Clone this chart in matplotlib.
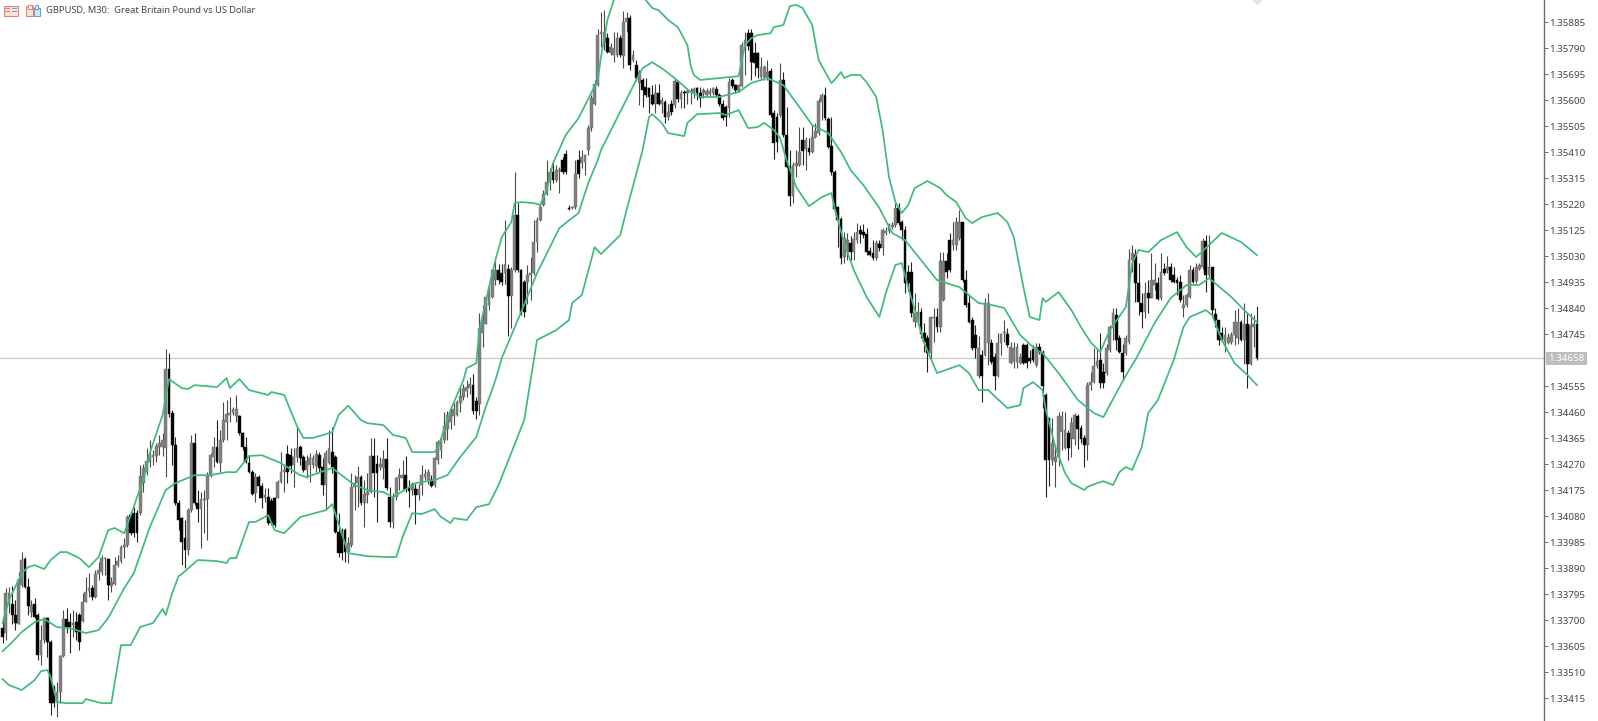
import matplotlib
matplotlib.use("Agg")
import matplotlib.pyplot as plt
from matplotlib.patches import Rectangle
import numpy as np

# all prices below are points above 1.30000 (1 point = 0.00001)
opens = [
    3671,3653,3756,3760,3720,3689,3829,3923,3821,3732, 3759,3720,3574,3628,3708,3622,3458,3403,3440,3570,
    3704,3695,3683,3695,3720,3699,3769,3809,3817,3787, 3870,3878,3923,3923,3826,3835,3902,3917,3967,3976,
    4085,4091,4091,4092,4201,4244,4280,4299,4301,4335, 4333,4329,4618,4459,4341,4128,4073,4000,3958,4104,
    4350,4131,4106,4140,4143,4228,4299,4333,4277,4360, 4427,4451,4459,4447,4447,4384,4333,4277,4244,4165,
    4223,4191,4146,4150,4138,4146,4146,4207,4244,4308, 4305,4268,4296,4333,4299,4250,4268,4268,4265,4305,
    4262,4195,4277,4317,4299,4025,4019,4031,3952,3976, 4189,4201,4226,4131,4159,4171,4301,4272,4260,4256,
    4289,4153,4061,4153,4220,4219,4233,4186,4176,4182, 4158,4194,4225,4213,4215,4194,4286,4322,4359,4401,
    4426,4446,4450,4493,4517,4539,4548,4560,4502,4490, 4749,4785,4852,4883,4944,4980,4968,4968,4986,4885,
    4980,5181,4980,4937,4937,4962,4968,5084,5163,5218, 5260,5303,5339,5309,5343,5382,5406,5209,5208,5211,
    5382,5370,5376,5419,5498,5589,5656,5843,5809,5827, 5772,5766,5766,5827,5762,5888,5900,5748,5729,5663,
    5675,5648,5644,5620,5587,5626,5587,5595,5538,5589, 5583,5669,5604,5632,5628,5632,5632,5644,5628,5626,
    5620,5623,5626,5641,5620,5587,5575,5571,5675,5656, 5636,5653,5796,5845,5845,5775,5775,5687,5687,5687,
    5709,5553,5541,5547,5675,5474,5356,5251,5361,5364, 5456,5422,5425,5413,5468,5483,5596,5620,5531,5434,
    5340,5212,5166,5029,5048,5078,5048,5090,5127,5121, 5112,5051,5044,5023,5076,5060,5115,5124,5137,5145,
    5206,5157,5127,4975,4975,4792,4792,4828,4749,4731, 4676,4804,4808,4774,4871,5013,5090,5072,5072,5096,
    5157,4944,4859,4798,4743,4593,4670,4670,4713,4713, 4664,4593,4713,4749,4747,4642,4646,4646,4642,4707,
    4707,4658,4691,4634,4698,4680,4524,4439,4287,4280, 4299,4390,4329,4384,4362,4362,4447,4402,4366,4341,
    4561,4573,4630,4651,4609,4603,4690,4767,4816,4731, 4676,4676,4718,5017,5035,4932,4861,4828,4895,4880,
    4925,4932,4877,4986,4980,4992,4962,4944,4938,4840, 4852,4883,4980,4941,4983,4992,5087,4962,4990,4820,
    4798,4749,4718,4715,4718,4743,4731,4791,4725,4783,4639,4773,4785,
]
closes = [
    3641,3801,3799,3720,3692,3848,3921,3821,3753,3756, 3714,3574,3628,3708,3622,3397,3397,3440,3570,3704,
    3677,3677,3692,3659,3622,3769,3805,3817,3787,3870, 3884,3927,3927,3829,3842,3902,3917,3969,3976,4079,
    4018,4018,4018,4228,4256,4284,4305,4305,4338,4350, 4360,4618,4455,4341,4128,4067,3988,3958,4104,4350,
    4128,4106,4143,4143,4228,4305,4333,4280,4360,4433, 4455,4459,4472,4472,4384,4333,4280,4244,4162,4226,
    4191,4146,4159,4055,4055,4049,4207,4244,4250,4244, 4265,4296,4329,4293,4250,4284,4293,4293,4308,4256,
    4195,4311,4329,4260,4025,3945,3945,3952,3982,4189, 4201,4226,4131,4162,4171,4301,4238,4238,4272,4289,
    4183,4061,4150,4220,4232,4231,4182,4174,4200,4158, 4182,4231,4235,4243,4191,4292,4353,4361,4410,4450,
    4462,4474,4499,4520,4548,4554,4563,4466,4466,4767, 4800,4883,4919,4980,4980,4944,4937,5004,4885,4980,
    5181,4980,4822,4828,4962,4968,5084,5163,5212,5260, 5303,5339,5309,5345,5345,5339,5339,5202,5211,5333,
    5333,5394,5400,5498,5608,5660,5839,5851,5851,5778, 5796,5790,5827,5766,5888,5900,5729,5766,5681,5705,
    5638,5620,5614,5589,5626,5587,5602,5538,5559,5559, 5671,5604,5628,5628,5636,5636,5641,5626,5608,5638,
    5636,5636,5644,5620,5587,5535,5541,5669,5653,5638, 5656,5803,5821,5799,5742,5738,5717,5723,5723,5705,
    5547,5444,5450,5675,5474,5358,5251,5364,5370,5413, 5417,5456,5413,5468,5490,5599,5620,5535,5431,5340,
    5202,5163,5023,5096,5090,5048,5093,5121,5112,5109, 5048,5036,5023,5078,5060,5127,5124,5139,5145,5206,
    5151,5127,4932,4932,4822,4822,4828,4747,4719,4676, 4808,4808,4774,5013,5013,4975,4981,5090,5157,5157,
    4944,4853,4792,4694,4694,4694,4593,4859,4859,4646, 4593,4713,4747,4755,4707,4701,4695,4701,4664,4642,
    4642,4649,4652,4698,4682,4555,4287,4287,4347,4299, 4447,4447,4396,4329,4420,4451,4399,4362,4341,4561,
    4573,4630,4649,4566,4566,4694,4773,4822,4725,4682, 4609,4731,5017,5041,4932,4865,4828,4897,4880,4944,
    4944,4873,4974,4968,4992,4944,4938,4932,4871,4852, 4889,4980,4938,4992,4998,5087,4962,4992,4834,4798,
    4725,4725,4743,4737,4743,4791,4791,4725,4783,4639,4779,4785,4658,
]
highs = [
    3714,3817,3821,3826,3775,3878,3951,3933,3854,3775, 3781,3726,3683,3714,3714,3628,3464,3476,3574,3738,
    3744,3726,3738,3732,3726,3799,3860,3872,3829,3884, 3915,3939,3933,3927,3860,3933,3939,3976,4000,4085,
    4091,4116,4103,4268,4272,4329,4360,4323,4347,4378, 4384,4691,4676,4469,4372,4140,4079,4067,4110,4378,
    4384,4177,4171,4177,4244,4311,4372,4433,4396,4500, 4506,4518,4481,4524,4451,4390,4372,4305,4250,4238,
    4232,4201,4183,4183,4146,4153,4213,4317,4268,4341, 4329,4329,4411,4341,4305,4305,4311,4305,4323,4317,
    4293,4323,4396,4408,4305,4092,4037,4037,4006,4238, 4232,4265,4232,4213,4238,4366,4366,4305,4299,4323,
    4366,4189,4165,4226,4256,4286,4300,4213,4206,4200, 4200,4267,4255,4255,4231,4298,4359,4371,4462,4466,
    4483,4493,4505,4554,4563,4578,4590,4602,4517,4822, 4852,4889,4925,4986,5017,5004,5004,5163,5004,4992,
    5340,5224,4986,4944,4998,5029,5163,5175,5224,5272, 5382,5352,5382,5364,5358,5394,5418,5218,5214,5382,
    5418,5418,5406,5510,5620,5675,5863,5924,5930,5845, 5809,5851,5851,5839,5928,5924,5912,5784,5748,5711,
    5681,5681,5650,5656,5662,5662,5614,5602,5589,5602, 5681,5675,5638,5638,5644,5644,5648,5650,5648,5644,
    5644,5644,5650,5653,5626,5602,5584,5681,5681,5662, 5662,5815,5851,5863,5863,5815,5778,5760,5730,5748,
    5717,5565,5555,5736,5705,5577,5419,5377,5419,5502, 5502,5468,5462,5510,5517,5608,5626,5651,5541,5541,
    5346,5215,5176,5121,5115,5105,5121,5151,5145,5149, 5133,5066,5090,5090,5090,5133,5139,5151,5157,5224,
    5227,5163,5140,5000,5011,4895,4865,4841,4786,4743, 4810,4841,4841,5048,5048,5042,5115,5157,5176,5200,
    5157,4981,4889,4810,4780,4739,4688,4877,4895,4730, 4676,4749,4752,4798,4768,4719,4719,4713,4676,4713,
    4713,4688,4707,4713,4713,4688,4530,4439,4439,4335, 4463,4466,4463,4396,4445,4459,4455,4414,4378,4573,
    4609,4695,4695,4749,4640,4712,4779,4840,4840,4743, 4712,4743,5059,5072,5059,5005,4895,4938,4944,5041,
    5005,4956,5044,5005,5031,5005,4992,4956,4962,4889, 4895,4998,4992,5005,5007,5096,5108,5108,4992,4840,
    4798,4773,4773,4749,4755,4834,4840,4798,4859,4822,4822,4816,4849,
]
lows = [
    3616,3628,3726,3689,3665,3689,3823,3817,3720,3714, 3708,3555,3537,3616,3568,3354,3385,3348,3397,3568,
    3653,3580,3641,3628,3592,3695,3769,3787,3775,3781, 3848,3866,3866,3775,3805,3829,3896,3909,3927,3969,
    4012,4006,3988,4086,4171,4232,4262,4268,4280,4305, 4300,4226,4445,4268,4122,4031,3903,3891,3939,4098,
    4122,4061,3964,4019,3994,4226,4262,4274,4244,4353, 4360,4427,4451,4427,4378,4323,4274,4238,4159,4132,
    4146,4110,4134,4049,4049,4043,4146,4201,4171,4201, 4240,4189,4280,4268,4244,4220,4207,4256,4244,4244,
    4159,4104,4272,4240,4019,3933,3921,3915,3909,3970, 4104,4116,4122,4043,4128,4165,4153,4061,4250,4216,
    4177,4043,4037,4140,4177,4182,4170,4115,4158,4054, 4140,4158,4213,4200,4186,4188,4273,4292,4347,4359,
    4401,4414,4446,4462,4505,4517,4529,4456,4438,4450, 4700,4785,4834,4877,4925,4931,4925,4929,4739,4767,
    4974,4974,4816,4810,4858,4870,4962,5047,5160,5215, 5254,5272,5299,5303,5263,5333,5333,5199,5202,5205,
    5315,5352,5327,5400,5490,5583,5653,5796,5784,5772, 5766,5742,5760,5760,5717,5851,5711,5742,5675,5583,
    5577,5614,5553,5583,5553,5583,5553,5516,5529,5547, 5571,5595,5571,5571,5589,5589,5608,5602,5577,5608,
    5614,5614,5620,5614,5580,5529,5507,5541,5644,5626, 5632,5648,5693,5784,5675,5689,5681,5675,5675,5675,
    5541,5385,5413,5541,5468,5352,5215,5224,5322,5361, 5364,5346,5401,5407,5462,5474,5529,5529,5425,5328,
    5194,5066,5003,5005,5017,5017,5017,5078,5078,5096, 5036,5030,5017,5017,5051,5036,5109,5117,5129,5139,
    5145,5090,4895,4905,4810,4774,4780,4731,4682,4609, 4652,4719,4755,4755,4869,4950,4975,5054,5054,5090,
    4938,4847,4786,4688,4658,4585,4500,4666,4634,4637, 4542,4591,4670,4719,4698,4637,4621,4621,4637,4637,
    4621,4642,4646,4628,4674,4475,4153,4192,4268,4189, 4265,4323,4325,4287,4299,4341,4325,4347,4260,4287,
    4542,4569,4621,4548,4548,4597,4682,4725,4688,4676, 4578,4670,4712,4974,4865,4816,4767,4804,4822,4877,
    4907,4871,4871,4962,4968,4938,4932,4889,4865,4810, 4846,4877,4932,4932,4980,4986,4901,4956,4810,4773,
    4706,4718,4682,4710,4710,4706,4712,4722,4639,4548,4633,4700,4651,
]

upper_bars = [
    0,2,6,8,10,13,15,18,20,24,27,30,33,35,38,41,42,44,46,50,52,56,58,60,67,70,71,74,77,83,84,88,92,94,97,
    103,105,108,112,114,119,122,126,128,135,136,140,144,145,148,149,152,154,156,159,160,162,166,168,170,172,176,180,186,187,189,191,196,
    201,203,205,208,211,214,215,216,218,224,230,232,234,236,240,241,244,246,248,250,253,255,259,260,262,263,265,268,
    270,273,275,277,279,281,283,285,289,293,295,298,301,303,306,311,314,316,319,321,324,325,326,330,334,337,340,343,346,
    351,353,355,358,362,367,370,373,376,381,387,392,
]
upper = [
    3691,3775,3873,3895,3902,3888,3921,3950,3950,3928,3895,3932,4030,4038,4019,4115,4150,4213,4312,4451,4582,4549,4546,4560,4553,4586,4549,4582,4542,4524,4535,4524,4410,4367,4367,
    4388,4451,4485,4432,4421,4414,4378,4367,4315,4315,4330,4469,4578,4622,4640,4761,4918,5017,5101,5156,5225,5229,5225,5218,5273,5371,5474,5536,5675,5759,5894,5967,6004,
    5967,5938,5930,5894,5868,5803,5729,5693,5675,5682,5689,5803,5828,5839,5846,5868,5876,5945,5949,5938,5876,5748,5664,5675,5704,5682,5693,5693,
    5667,5613,5492,5320,5229,5189,5218,5280,5306,5280,5254,5229,5170,5152,5174,5189,5156,5101,4918,4809,4798,4878,4864,4900,4834,4772,4717,4681,4761,
    4845,5006,5054,5046,5090,5119,5064,5028,5061,5116,5083,5035,
]
middle_bars = [
    0,3,6,10,13,17,21,26,30,33,38,41,46,51,54,60,65,70,73,77,81,87,93,95,103,110,114,119,122,127,129,135,139,143,148,151,154,156,161,167,174,180,183,186,187,
    198,200,203,206,210,215,218,224,230,234,239,244,249,253,258,262,265,269,274,278,282,287,292,299,305,309,313,318,323,325,330,336,341,344,348,352,354,360,365,370,374,377,384,388,392,
]
middle = [
    3588,3621,3658,3694,3705,3676,3672,3654,3665,3709,3818,3873,4041,4177,4202,4231,4231,4242,4242,4301,4304,4275,4231,4224,4257,4195,4177,4169,4151,4187,4202,4213,4231,4297,4370,4480,4578,4659,4798,4969,5134,5189,5298,5382,5419,
    5675,5718,5740,5718,5682,5631,5613,5613,5631,5664,5682,5656,5576,5510,5481,5412,5346,5291,5207,5116,5090,5017,4944,4918,4860,4853,4842,4743,4688,4677,4604,4506,4458,4443,4531,4615,4652,4787,4878,4926,4926,4951,4882,4834,4790,
]
lower_bars = [
    0,2,6,10,12,14,15,17,20,25,26,31,34,35,37,40,43,47,50,51,53,55,56,61,67,70,71,73,77,79,83,85,88,93,101,103,108,114,120,123,125,128,131,135,137,140,141,145,148,152,155,163,167,173,177,178,181,185,187,193,195,
    200,202,203,206,208,213,214,217,224,226,230,233,236,238,241,243,245,248,252,256,259,260,263,266,270,274,276,279,281,283,288,292,299,302,305,308,314,318,319,322,325,326,329,332,334,338,339,342,344,347,349,351,353,356,358,361,366,369,371,376,378,381,385,389,392,
]
lower = [
    3486,3464,3446,3482,3515,3519,3493,3402,3398,3398,3413,3398,3398,3471,3610,3610,3676,3691,3742,3720,3800,3862,3870,3921,3917,3910,3928,3928,4060,4060,4085,4030,4019,4078,4103,4125,3946,3935,3932,3932,4005,4092,4089,4107,4078,4056,4074,4067,4114,4125,4195,4432,4725,4761,4798,4860,4889,5064,5039,5108,5200,
    5419,5539,5550,5518,5481,5470,5518,5550,5554,5547,5565,5499,5503,5518,5492,5463,5382,5284,5214,5247,5262,5207,5079,4980,4882,4809,4896,4999,5006,4918,4714,4604,4633,4604,4542,4542,4476,4487,4549,4571,4542,4469,4334,4239,4202,4177,4188,4202,4209,4195,4242,4261,4250,4334,4458,4505,4652,4772,4809,4834,4816,4725,4640,4597,4560,
]

axis_ticks = [
    3415,3510,3605,3700,3795,3890,3985,4080,4175,4270,4365,4460,4555,
    4745,4840,4935,5030,5125,5220,5315,5410,5505,5600,5695,5790,5885,
]
last_price = 4658
title = "GBPUSD, M30:  Great Britain Pound vs US Dollar"


def to_price(points):
    return 1.3 + np.asarray(points) / 1e5


W, H = 1598, 721
fig = plt.figure(figsize=(W / 100, H / 100), dpi=100, facecolor="white")
ax = fig.add_axes([0, 0, 1544 / W, 1])

px_per_unit = 26 / 0.00095
y_top = 1.35885 + 22.5 / px_per_unit
ax.set_ylim(y_top - H / px_per_unit, y_top)
ax.set_xlim(-2.6 / 3.2, (1544 - 2.6) / 3.2)

o = to_price(opens)
c = to_price(closes)
h = to_price(highs)
l = to_price(lows)
bars = np.arange(len(o))
up = c >= o

ax.axhline(to_price(last_price), color="#c8c8c8", lw=0.9, zorder=1)
ax.vlines(bars[up], l[up], h[up], color="#4a4a4a", lw=0.8, zorder=2)
ax.vlines(bars[~up], l[~up], h[~up], color="#222222", lw=0.8, zorder=2)
ax.bar(bars[up], (c - o)[up], bottom=o[up], width=0.85, color="#808080", edgecolor="#6a6a6a", lw=0.3, zorder=3)
ax.bar(bars[~up], (o - c)[~up], bottom=c[~up], width=0.85, color="#050505", edgecolor="#050505", lw=0.3, zorder=3)

band_lines = [(upper_bars, upper), (middle_bars, middle), (lower_bars, lower)]
for band_x, band in band_lines:
    ax.plot(band_x, to_price(band), color="#3fbb7a", lw=1.25, zorder=4, solid_joinstyle="round")

ax.plot([392], [y_top], marker="D", ms=5, color="#e4e4e4", mec="none", clip_on=True, zorder=1)

for s in ("top", "left", "bottom"):
    ax.spines[s].set_visible(False)
ax.spines["right"].set_color("#6e6e6e")
ax.spines["right"].set_linewidth(1.0)
ax.xaxis.set_visible(False)
ax.yaxis.tick_right()
ax.set_yticks(to_price(axis_ticks))
ax.set_yticklabels([f"{p:.5f}" for p in to_price(axis_ticks)], family="Noto Sans", fontsize=7, color="#444444")
ax.tick_params(axis="y", length=3, width=0.7, color="#6e6e6e", pad=0.5)

# current price tag
ax.text(
    1.003, to_price(last_price), f"{to_price(last_price):.5f}", transform=ax.get_yaxis_transform(),
    family="Noto Sans", fontsize=7, color="white", va="center", ha="left",
    bbox=dict(boxstyle="square,pad=0.22", fc="#bdbdbd", ec="none"), zorder=6, clip_on=False,
)

fig.text(46 / W, 1 - 10 / H, title, family="Noto Sans", fontsize=6.7, color="#444444", va="center")


def box(x, y, w, h_, fc, ec):
    fig.add_artist(Rectangle((x / W, 1 - (y + h_) / H), w / W, h_ / H, fc=fc, ec=ec, lw=0.8, transform=fig.transFigure))


# the two little toolbar icons
box(4, 5.5, 14, 10, "#fbe3de", "#ee7f72")
box(5, 8, 5, 1, "#ee7f72", "none")
box(5, 11, 5, 1, "#ee7f72", "none")
box(12, 8, 5, 1, "#5da2dc", "none")
box(12, 11, 5, 1, "#5da2dc", "none")
box(26, 5.5, 7, 10, "#fbe3de", "#ee7f72")
box(28, 5, 4, 4, "white", "#ee7f72")
box(34, 8, 6, 7.5, "#d7e8f7", "#5da2dc")
box(35, 5, 3, 4, "white", "#5da2dc")

fig.savefig("out.png", dpi=100)
